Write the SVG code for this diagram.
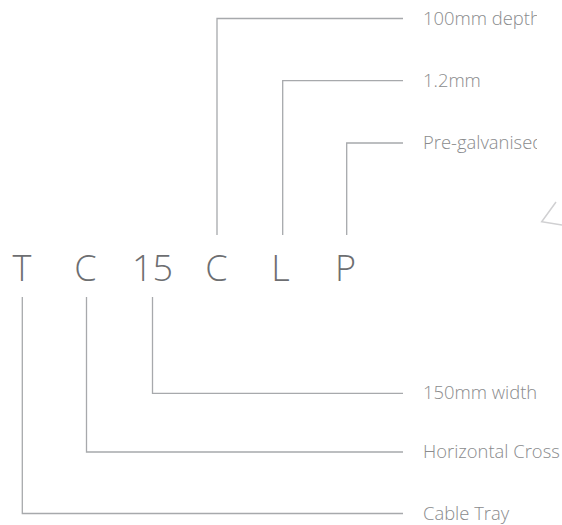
<svg xmlns="http://www.w3.org/2000/svg" width="562" height="525" viewBox="0 0 562 525">
<style>
.code{font-family:"Open Sans","Liberation Sans",sans-serif;font-weight:300;font-size:36px;fill:#6d6e71;text-anchor:middle}
.lbl{font-family:"Open Sans","Liberation Sans",sans-serif;font-weight:300;font-size:18.4px;fill:#8a8b8d}
.ln{fill:none;stroke:#a7a9ac;stroke-width:1.3}
</style>
<defs>
<clipPath id="clipTop"><rect x="0" y="0" width="537" height="525"/></clipPath>
</defs>
<rect width="562" height="525" fill="#ffffff"/>
<g id="connectors">
<polyline class="ln" points="217,235 217,18.5 403,18.5"/>
<polyline class="ln" points="282.7,235 282.7,80.7 403,80.7"/>
<polyline class="ln" points="346.7,235 346.7,143 403,143"/>
<polyline class="ln" points="152.5,297 152.5,393.3 403,393.3"/>
<polyline class="ln" points="86.5,297 86.5,452 403,452"/>
<polyline class="ln" points="22.3,297 22.3,513.5 403,513.5"/>
</g>
<g id="code">
<text class="code" x="22" y="281">T</text>
<text class="code" x="85.4" y="281">C</text>
<text class="code" x="152.5" y="281">15</text>
<text class="code" x="216.4" y="281">C</text>
<text class="code" x="280.6" y="281">L</text>
<text class="code" x="345.6" y="281">P</text>
</g>
<g id="label-depth" clip-path="url(#clipTop)"><text class="lbl" x="423" y="24.5">100mm depth</text></g>
<g id="label-thickness" clip-path="url(#clipTop)"><text class="lbl" x="423" y="86.5">1.2mm</text></g>
<g id="label-finish" clip-path="url(#clipTop)"><text class="lbl" x="423" y="149">Pre-galvanised</text></g>
<g id="label-width"><text class="lbl" x="423" y="399">150mm width</text></g>
<g id="label-type"><text class="lbl" x="423" y="458">Horizontal Cross</text></g>
<g id="label-product"><text class="lbl" x="423" y="519.5">Cable Tray</text></g>
<g id="mark">
<polyline points="556,202 541.7,221.7 562,225" fill="none" stroke="#d0d0d2" stroke-width="1.5" stroke-linejoin="miter"/>
</g>
</svg>
